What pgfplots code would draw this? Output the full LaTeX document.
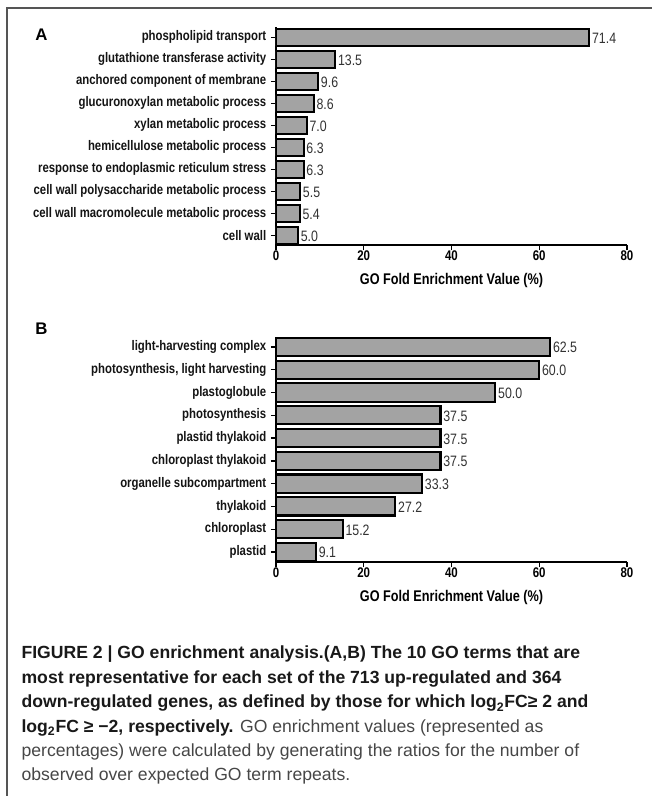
\documentclass[border=0pt]{standalone}
\usepackage{pgfplots}
\pgfplotsset{compat=1.18}
\usepackage{fontspec}
\setmainfont{Liberation Sans}
\newfontfamily\narrowfont[FakeStretch=0.82]{Liberation Sans}

\definecolor{barfill}{RGB}{163,163,163}
\definecolor{valtext}{RGB}{50,50,50}
\definecolor{framegray}{RGB}{85,85,85}
\definecolor{capbold}{RGB}{25,25,25}
\definecolor{capreg}{RGB}{70,70,70}

\pgfplotsset{
  goplot/.style={
    xbar, scale only axis,
    width=263.25pt,
    xmin=0, xmax=80, ymin=-0.45, ymax=9.45,
    axis x line*=bottom, axis y line*=left,
    axis line style={line width=1.4pt,-},
    xtick={0,20,40,60,80}, ytick={0,...,9},
    tick align=outside, major tick length=3.8pt,
    tick style={line width=1pt, black},
    /pgf/number format/assume math mode=true,
    bar width=0.8, bar shift=0pt,
    xticklabel style={font=\narrowfont\bfseries\fontsize{10.5}{12}\selectfont, yshift=3.3pt},
    yticklabel style={font=\narrowfont\bfseries\fontsize{10.4}{12}\selectfont, text=black!92},
    xlabel={GO Fold Enrichment Value (\%)},
    xlabel style={font=\narrowfont\bfseries\fontsize{11.6}{13}\selectfont, yshift=-2.8pt},
    nodes near coords={\pgfmathprintnumber[fixed,fixed zerofill,precision=1,assume math mode=true]{\pgfplotspointmeta}},
    nodes near coords align={horizontal},
    point meta=x,
    every node near coord/.append style={font=\narrowfont\fontsize{11.3}{13}\selectfont, text=valtext, anchor=west, xshift=-2pt, yshift=-0.6pt},
  }
}

% up-regulated terms (bottom to top)
\pgfplotstableread{
y  val
0  5.0
1  5.4
2  5.5
3  6.3
4  6.3
5  7.0
6  8.6
7  9.6
8  13.5
9  71.4
}\upterms

% down-regulated terms (bottom to top)
\pgfplotstableread{
y  val
0  9.1
1  15.2
2  27.2
3  33.3
4  37.5
5  37.5
6  37.5
7  50.0
8  60.0
9  62.5
}\downterms

\begin{document}
\begin{tikzpicture}
  \useasboundingbox (0,0) rectangle (489pt,597pt);
  \draw[framegray, line width=1.2pt] (5.4pt,0) -- (5.4pt,591pt) -- (489pt,591pt);

  \node[font=\bfseries\fontsize{12.6}{15}\selectfont] at (31pt,571pt) {A};
  \node[font=\bfseries\fontsize{12.6}{15}\selectfont] at (31pt,350.5pt) {B};

  \begin{axis}[goplot, height=163.4pt, at={(207pt,413pt)}, anchor=south west,
    yticklabels={{cell wall},{cell wall macromolecule metabolic process},{cell wall polysaccharide metabolic process},{response to endoplasmic reticulum stress},{hemicellulose metabolic process},{xylan metabolic process},{glucuronoxylan metabolic process},{anchored component of membrane},{glutathione transferase activity},{phospholipid transport}}]
    \addplot[fill=barfill, draw=black, line width=1.6pt] table[x=val, y=y] {\upterms};
  \end{axis}

  \begin{axis}[goplot, height=169.2pt, at={(207pt,175.3pt)}, anchor=south west,
    yticklabels={{plastid},{chloroplast},{thylakoid},{organelle subcompartment},{chloroplast thylakoid},{plastid thylakoid},{photosynthesis},{plastoglobule},{photosynthesis, light harvesting},{light-harvesting complex}}]
    \addplot[fill=barfill, draw=black, line width=1.6pt] table[x=val, y=y] {\downterms};
  \end{axis}

  % figure caption
  \begin{scope}[every node/.style={anchor=base west, inner sep=0pt, font=\fontsize{13.2}{15}\selectfont}]
    \node[text=capbold] at (16pt,102.75pt) {\bfseries FIGURE 2 | GO enrichment analysis.(A,B) The 10 GO terms that are};
    \node[text=capbold] at (16pt,84.4pt) {\bfseries most representative for each set of the 713 up-regulated and 364};
    \node[text=capbold] at (16pt,66pt) {\bfseries down-regulated genes, as defined by those for which log\textsubscript{2}FC≥ 2 and};
    \node at (16pt,47.6pt) {\textcolor{capbold}{\bfseries log\textsubscript{2}FC ≥ −2, respectively.} \textcolor{capreg}{GO enrichment values (represented as}};
    \node[text=capreg] at (16pt,29.25pt) {percentages) were calculated by generating the ratios for the number of};
    \node[text=capreg] at (16pt,11.25pt) {observed over expected GO term repeats.};
  \end{scope}
\end{tikzpicture}
\end{document}
